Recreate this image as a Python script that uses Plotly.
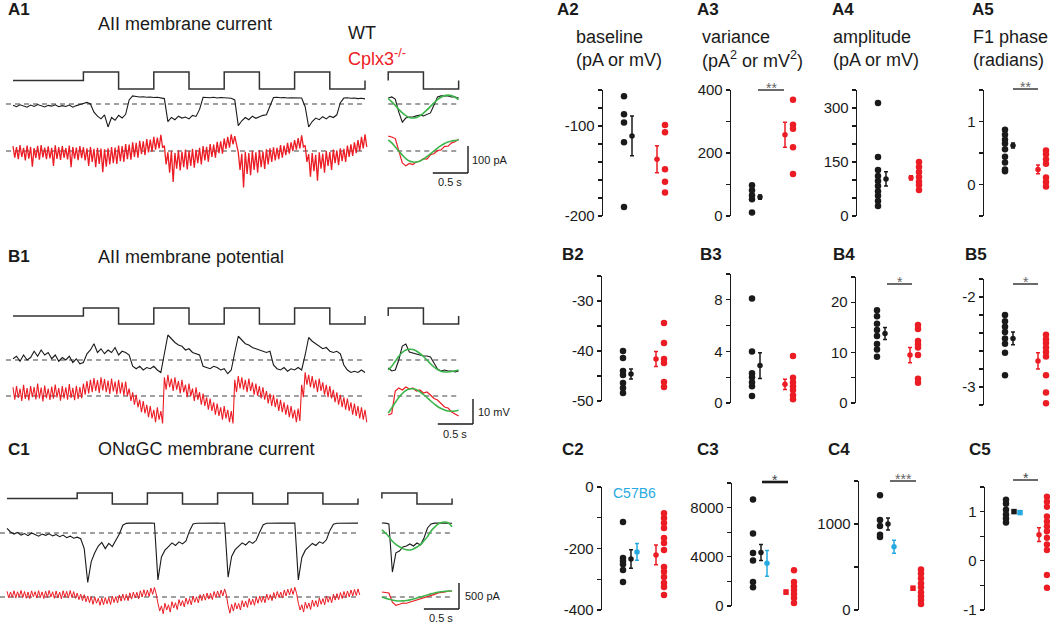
import plotly.graph_objects as go

W, H = 1050, 623          # reference picture size
OFF = 0                    # page margin is removed in the page (see write_html)
FW, FH = W - OFF, H - OFF  # size of the plotly canvas
DT = 0.05  # sampling interval of the read-off traces (s)
FONT = "Liberation Sans, Arial, Helvetica, sans-serif"
BLACK, RED, BLUE, GREEN, GRAY = "#1a1a1a", "#ec1c24", "#27aae1", "#3bb54a", "#808080"

# ---------------- stimulus (contrast steps) ----------------
stim_t = [0, 1.0, 1.5, 2.0, 2.5, 3.0, 3.5, 4.0, 4.5, 5.0]
stim_lv = [0, 1, -1, 1, -1, 1, -1, 1, -1, 0]
inset_stim_t = [0, 0, 0.5, 1.0]
inset_stim_lv = [0, 1, -1, 0]

# ---------------- A1: AII membrane current (pA, relative to baseline) ----------------
a1_wt = [-5, -10, -3, -8, -12, -4, -9, -2, -7, -11, -5, -8, -3, -10, -6, -9, -4, -12, -6, -3,
         2, 6, 0, -30, -45, -55, -40, -85, -50, -60, -42, -52, -38, 15, 30,
         28, 26, 27, 25, 26, 24, 25, 23, 20, -65, -50, -58, -45, -52, -48, -55, -42, -46, -20, 25,
         24, 23, 25, 22, 24, 23, 22, 21, 15, -80, -62, -50, -58, -45, -53, -48, -42, -40, -10, 24,
         25, 23, 24, 22, 23, 22, 21, 22, -10, -85, -65, -52, -58, -47, -55, -45, -50, -40, 5, 22,
         23, 21, 22, 20, 21, 19]
# Cplx3-/- trace: upper and lower edges of the noise band
a1_ko_hi = [18, 14, 22, 12, 20, 15, 11, 19, 22, 13, 17, 12, 21, 14, 18, 11, 20, 15, 13, 18,
            14, 10, 15, 8, 12, 9, 6,
            10, 15, 13, 20, 18, 26, 24, 32, 30, 38, 36, 44, 42, 52, 50,
            60, 20,
            -5, 0, -8, 2, -3, 5, 0, 8, 4, 12,
            18, 15, 26, 24, 34, 36, 46, 52, 62,
            55, -5,
            -10, -3, -8, 0, -5, 3, -2, 6,
            10, 14, 12, 22, 20, 30, 32, 40, 48, 58,
            20, -12,
            -8, -14, -5, -10, 0, -4, 5, 2,
            10, 8, 20, 25, 32, 40, 52, 62]
a1_ko_lo = [-25, -30, -22, -35, -28, -58, -26, -32, -24, -30, -27, -55, -29, -33, -25, -31, -60, -28, -34, -26,
            -35, -55, -40, -60, -48, -78, -58,
            -50, -45, -48, -38, -40, -30, -32, -22, -25, -12, -15, -5, -2, 5, 10,
            12, -50,
            -80, -115, -65, -72, -60, -68, -55, -62, -45, -50,
            -35, -40, -22, -25, -8, -10, 8, 12, 25,
            20, -70,
            -135, -85, -90, -70, -80, -60, -66, -50,
            -40, -35, -30, -25, -15, -10, 0, 5, 10, 15,
            -40, -95,
            -75, -110, -65, -80, -55, -70, -45, -52,
            -38, -40, -22, -18, -8, 0, 10, 15]
a1_wt_avg = [22, 26, 18, -30, -67, -52, -48, -48, -44, -41, -44, -37, -33, -4, 26, 30, 30, 30, 26, 26, 22]
a1_wt_fit = [20, 8, -5, -20, -33, -43, -50, -52, -50, -44, -34, -22, -9, 4, 16, 25, 31, 33, 31, 25, 16]
a1_ko_avg = [55, 52, 46, 4, -44, -55, -46, -50, -40, -38, -28, -30, -14, -10, 2, 4, 17, 18, 30, 34, 44]
a1_ko_fit = [41, 30, 15, 0, -15, -28, -37, -41, -41, -37, -30, -20, -11, 0, 11, 20, 28, 33, 37, 39, 41]

# ---------------- B1: AII membrane potential (mV, relative to baseline) ----------------
b1_wt = [0.5, 1.5, -0.5, 2, 0, 1, 3.5, 1.5, 4, 2, 3, 0.5, 2, -0.5, 1, 0, 1.5, -1, 0.5, -1.5,
         -1, 2.5, 4, 6.5, 3, 4.5, 2.5, 4, 3, 5, 2, 3.5, 3, 2,
         -2.5, -3.5, -2.5, -4, -3, -3.5, -2.5, -4, -5,
         2, 10, 8.5, 7, 6, 5.5, 4, 4.5, 3, 2.5, 2,
         -2.5, -3, -3.5, -2.5, -3, -4, -3.5, -5.5, -4,
         3, 9.5, 8, 6.5, 6, 5, 4.5, 4, 3.5, 3, 3.5,
         -2, -3.5, -4, -3, -4.5, -3.5, -4, -3, -4,
         2, 9, 7.5, 6.5, 5.5, 4.5, 5, 3.5, 3, 3.5, 2.5,
         -2, -4, -5, -4.5, -5, -4, -5]
b1_ko_hi = [3.5, 4, 3, 4.5, 3.2, 4, 3.6, 5, 3.4, 4.2, 3, 3.8, 4.6, 3.2, 4, 3.5, 4.8, 3.3, 4.1, 3.6,
            5, 6, 6.5, 7.2, 6.4, 7.5, 6.8, 6.2, 7, 5.8, 6.5, 5.5, 5.8,
            3, 1.5, 0.5, -1.5, -2, -3.5, -4, -5.5, -4.5, -6,
            7.5, 8.5,
            7, 7.5, 6, 6.5, 4.5, 5, 3, 3.5, 1.5, 1, -0.5, -1, -2.5, -3, -4.5, -4, -5.5, -6,
            6.5, 8,
            7.5, 6.5, 7, 5.5, 5, 4, 3.5, 2, 1, 0.5, -1, -1.5, -2.5, -3.5, -4, -5.5, -5,
            4.5, 9.5,
            8.5, 8, 6.5, 7, 5.5, 4.5, 4, 2.5, 1.5, 0.5, -0.5, -1, -2.5, -3, -4, -4.5, -5.5]
b1_ko_lo = [-1.5, -0.8, -2, -1.2, -1.8, -0.5, -1.4, -1, -2.2, -0.9, -1.6, -1.1, -0.6, -1.9, -1, -1.5, -0.8, -1.7, -1.2, -0.9,
            0.5, 1, 1.5, 2, 1.2, 2.2, 1.5, 0.8, 1.8, 0.6, 1, 0.2, 0,
            -2, -3.5, -4.5, -6.5, -7, -8.5, -9, -10.5, -9.5, -11,
            2.5, 3.5,
            2, 2.5, 1, 1.5, -0.5, 0, -2, -1.5, -3.5, -4, -5.5, -6, -7.5, -8, -9.5, -9, -10.5, -11,
            1.5, 3,
            2.5, 1.5, 2, 0.5, 0, -1, -1.5, -3, -4, -4.5, -6, -6.5, -7.5, -8.5, -9, -10.5, -10,
            -0.5, 4.5,
            3.5, 3, 1.5, 2, 0.5, -0.5, -1, -2.5, -3.5, -4.5, -5.5, -6, -7.5, -8, -9, -9.5, -10.5]
b1_wt_avg = [-3.2, -4.4, -4, 0, 5.6, 6.4, 3.2, 2.8, 2.4, 2, 1.6, 1.6, 1.2, -1.2, -3.6, -4.4, -4, -4.4, -4.4, -4.8, -4.4]
b1_wt_fit = [-4, -2.5, -0.5, 1.5, 3, 4, 4.3, 4.2, 3.6, 2.6, 1.4, 0, -1.5, -2.8, -3.8, -4.5, -4.8, -4.8, -4.6, -4.3, -4]
b1_ko_avg = [-7.6, -7, 2, 3.2, 2.4, 3.6, 2.8, 3.2, 2, 2.4, 1.2, 1.6, 0.4, -1, -1.6, -3.2, -4.4, -4.8, -6.4, -7.2, -8]
b1_ko_fit = [-6.8, -4.8, -2.6, -0.6, 1, 2.2, 2.8, 2.9, 2.5, 1.7, 0.6, -0.6, -1.9, -3.1, -4.2, -5, -5.6, -6, -6.1, -6, -5.7]

# ---------------- C1: ONaGC membrane current (pA, relative to baseline) ----------------
c1_wt = [90, 20, -20, 10, -40, -10, -50, 0, -30, -60, -20, -45, -15, -55, -30, -70, -40, -90, -60, -100,
         -80, -110, -300, -950, -550, -380,
         -250, -180, -300, -200, -260, -150, -20, 150,
         185, 190, 192, 190, 192, 190, 188, 190, 188,
         -900, -460, -330, -260, -190, -240, -170, -210, -150, 40, 175,
         188, 190, 192, 190, 192, 190, 190, 188, 190,
         -850, -450, -320, -250, -190, -230, -160, -200, -140, 20, 160,
         188, 192, 190, 192, 190, 190, 188, 190, 190,
         -900, -470, -330, -260, -200, -240, -170, -200, -130, 50, 170,
         188, 190, 192, 190, 190, 188, 190]
c1_ko_hi = [110, 95, 120, 100, 125, 105, 95, 118, 102, 122, 98, 112, 126, 100, 115, 96, 120, 108, 124, 104,
            75, 55, 45, 20, 5, 0, -25, -20,
            -10, -15, 15, 10, 40, 55, 50, 80, 95, 90, 120, 140, 135, 170,
            185, -120,
            -170, -120, -150, -90, -110, -50, -70, -20, -30, 15, 5, 45, 55, 75, 70, 105, 115, 135, 155,
            -170, -140,
            -110, -125, -70, -80, -30, -40, 0, 20, 10, 55, 45, 85, 105, 95, 135, 150, 165, 185,
            -120, -150,
            -100, -115, -60, -70, -20, -30, 20, 10, 55, 65, 85, 105, 115, 135, 145, 155]
c1_ko_lo = [-15, -5, -20, 0, -10, -25, -30, 5, -20, -5, -30, -10, 0, -25, -15, -35, -5, -20, -10, -25,
            -50, -70, -90, -110, -140, -120, -160, -150,
            -130, -145, -105, -115, -80, -65, -70, -40, -20, -35, 0, 15, 10, 50,
            60, -270,
            -320, -250, -290, -210, -240, -170, -190, -140, -150, -100, -115, -70, -60, -40, -50, -10, 0, 20, 40,
            -310, -270,
            -230, -250, -190, -200, -150, -160, -120, -100, -110, -60, -70, -30, -10, -20, 20, 40, 50, 70,
            -250, -290,
            -220, -240, -180, -190, -140, -150, -100, -110, -60, -50, -30, -10, 0, 20, 30, 40]
c1_wt_avg = [192, 190, 173, -750, -380, -346, -269, -250, -211, -250, -192, -230, -96, 96, 173, 190, 192, 190, 192, 190, 188]
c1_wt_fit = [58, 0, -70, -160, -220, -265, -300, -322, -325, -305, -270, -225, -150, -70, 40, 110, 170, 200, 210, 190, 120]
c1_ko_avg = [96, 90, 77, -100, -160, -140, -115, -120, -100, -70, -60, -40, -20, 0, 20, 50, 80, 96, 100, 110, 115]
c1_ko_fit = [0, -25, -45, -60, -72, -77, -75, -68, -55, -38, -18, 0, 20, 40, 60, 78, 92, 102, 110, 114, 115]

# ---------------- summary panels (per cell values, mean, sem) ----------------
a2_wt = [-67, -87, -96, -118, -190]; a2_wt_mean, a2_wt_sem = -111, 22
a2_ko = [-99, -107, -148, -162, -174]; a2_ko_mean, a2_ko_sem = -137, 15
a3_wt = [98, 82, 66, 53, 11]; a3_wt_mean, a3_wt_sem = 60, 7
a3_ko = [369, 290, 277, 218, 133]; a3_ko_mean, a3_ko_sem = 258, 40
a4_wt = [314, 164, 128, 111, 97, 83, 69, 56, 42, 28]; a4_wt_mean, a4_wt_sem = 103, 20
a4_ko = [150, 136, 122, 108, 95, 86, 72]; a4_ko_mean, a4_ko_sem = 106, 6
a5_wt = [0.87, 0.79, 0.71, 0.65, 0.56, 0.44, 0.35, 0.24, 0.21]; a5_wt_mean, a5_wt_sem = 0.62, 0.04
a5_ko = [0.54, 0.48, 0.40, 0.33, 0.11, 0.04, -0.03]; a5_ko_mean, a5_ko_sem = 0.24, 0.07

b2_wt = [-40.0, -41.4, -44.0, -44.8, -46.4, -47.4, -48.4]; b2_wt_mean, b2_wt_sem = -44.6, 1.0
b2_ko = [-34.4, -38.4, -41.6, -42.4, -46.2, -47.2]; b2_ko_mean, b2_ko_sem = -41.6, 1.5
b3_wt = [8.1, 4.0, 2.3, 2.0, 1.6, 1.3, 0.55]; b3_wt_mean, b3_wt_sem = 2.9, 1.0
b3_ko = [3.65, 1.95, 1.6, 1.3, 1.0, 0.6, 0.3]; b3_ko_mean, b3_ko_sem = 1.45, 0.4
b4_wt = [18.4, 17.2, 15.7, 14.5, 13.3, 11.7, 10.6, 9.2]; b4_wt_mean, b4_wt_sem = 13.8, 1.2
b4_ko = [15.5, 14.7, 12.3, 11.6, 11.0, 9.5, 4.8, 4.0]; b4_ko_mean, b4_ko_sem = 9.5, 1.5
b5_wt = [-2.2, -2.27, -2.33, -2.39, -2.46, -2.52, -2.62, -2.87]; b5_wt_mean, b5_wt_sem = -2.46, 0.07
b5_ko = [-2.42, -2.47, -2.51, -2.56, -2.61, -2.66, -2.87, -3.06, -3.18]; b5_ko_mean, b5_ko_sem = -2.71, 0.09

c2_wt = [-114, -231, -241, -251, -270, -309]; c2_wt_mean, c2_wt_sem = -234, 30
c2_b6_mean, c2_b6_sem = -211, 27
c2_ko = [-85, -101, -117, -133, -166, -182, -205, -260, -276, -293, -312, -325, -351]; c2_ko_mean, c2_ko_sem = -221, 32
c3_wt = [8650, 5900, 4300, 3700, 1950, 1530]; c3_wt_mean, c3_wt_sem = 4350, 650
c3_b6_mean, c3_b6_sem = 3470, 1050
c3_ko = [2900, 1950, 1600, 1300, 970, 650, 240]; c3_ko_mean, c3_ko_sem = 1130, 150
c4_wt = [1333, 1046, 977, 874, 850]; c4_wt_mean, c4_wt_sem = 1000, 70
c4_b6_mean, c4_b6_sem = 736, 75
c4_ko = [471, 425, 368, 310, 264, 207, 161, 115, 69]; c4_ko_mean, c4_ko_sem = 253, 20
c5_wt = [1.24, 1.16, 1.04, 0.94, 0.86, 0.78]; c5_wt_mean, c5_wt_sem = 1.0, 0.03
c5_b6_mean, c5_b6_sem = 0.98, 0.0
c5_ko = [1.3, 1.2, 1.1, 0.9, 0.8, 0.7, 0.6, 0.47, 0.33, 0.22, -0.29, -0.55]; c5_ko_mean, c5_ko_sem = 0.53, 0.14

# ======================================================================
fig = go.Figure()
layout = dict(width=FW, height=FH, autosize=False,
              margin=dict(l=0, r=0, t=0, b=0, pad=0, autoexpand=False), paper_bgcolor="white",
              plot_bgcolor="white", showlegend=False, font=dict(family=FONT, color=BLACK))
shapes, annos = [], []
naxes = [0]


def fx(x):
    return (x - OFF) / FW


def fy(y):
    return 1 - (y - OFF) / FH


def ydom(ptop, pbot):
    return [max(0.0, fy(pbot)), min(1.0, fy(ptop))]


def new_axes(xd, xr, yd, yr, yopts):
    naxes[0] += 1
    s = "" if naxes[0] == 1 else str(naxes[0])
    layout["xaxis" + s] = dict(domain=xd, range=xr, visible=False, anchor="y" + s, fixedrange=True,
                               automargin=False)
    layout["yaxis" + s] = dict(domain=yd, range=yr, anchor="x" + s, fixedrange=True, automargin=False, **yopts)
    return "x" + s, "y" + s


def text(xp, yp, s, size=18, color=BLACK, bold=False, xanchor="left"):
    if bold:
        s = "<b>" + s + "</b>"
    if xanchor == "left":
        xp -= 2
    annos.append(dict(x=fx(xp), y=fy(yp), xref="paper", yref="paper", text=s, showarrow=False,
                      xanchor=xanchor, yanchor="middle", font=dict(family=FONT, size=size, color=color)))


def pline(x0, y0, x1, y1, color=BLACK, width=1.3):
    shapes.append(dict(type="line", xref="paper", yref="paper", x0=fx(x0), y0=fy(y0),
                       x1=fx(x1), y1=fy(y1), line=dict(color=color, width=width)))


def trace_row(cfg, wt, ko_band, wt_avg, wt_fit, ko_avg, ko_fit, band_width=1.3):
    x0, pxps, k = cfg["x0"], cfg["pxps"], cfg["k"]
    ptop, pbot = cfg["ptop"], cfg["pbot"]

    def val(py):
        return (cfg["base"] - py) * k

    xa, ya = new_axes([0, fx(490)], [(OFF - x0) / pxps, (490 - x0) / pxps],
                      [fy(pbot), fy(ptop)], [val(pbot), val(ptop)], dict(visible=False))
    ko_off = val(cfg["ko_base"])
    t_main = [i * DT for i in range(len(wt))]
    ti = cfg["inset_t0"]
    t_in = [ti + i * DT for i in range(len(wt_avg))]
    # baselines (dashed)
    for off in (0, ko_off):
        for (a, b) in ((-0.1, 5.0), (ti, ti + 1.0)):
            shapes.append(dict(type="line", xref=xa, yref=ya, x0=a, x1=b, y0=off, y1=off, layer="below",
                               line=dict(color=GRAY, width=1.3, dash="5px,4px")))
    # stimulus
    s0, sa = val(cfg["stim"]), cfg["stim_amp"] * k
    fig.add_trace(go.Scatter(x=stim_t, y=[s0 + v * sa for v in stim_lv], mode="lines", line_shape="hv",
                             line=dict(color="#333", width=1.5), xaxis=xa, yaxis=ya, hoverinfo="skip"))
    fig.add_trace(go.Scatter(x=[ti + t for t in inset_stim_t], y=[s0 + v * sa for v in inset_stim_lv],
                             mode="lines", line_shape="hv", line=dict(color="#333", width=1.5),
                             xaxis=xa, yaxis=ya, hoverinfo="skip"))
    # recordings
    fig.add_trace(go.Scatter(x=t_main, y=wt, mode="lines", line=dict(color=BLACK, width=1.1),
                             xaxis=xa, yaxis=ya, hoverinfo="skip"))
    hi, lo = ko_band
    xs, ys = [], []
    for i in range(len(hi)):
        xs += [i * DT, i * DT + DT / 2]
        ys += [hi[i] + ko_off, lo[i] + ko_off]
    fig.add_trace(go.Scatter(x=xs, y=ys, mode="lines", line=dict(color=RED, width=band_width),
                             xaxis=xa, yaxis=ya, hoverinfo="skip"))
    # averaged cycle + F1 fit
    fig.add_trace(go.Scatter(x=t_in, y=wt_avg, mode="lines", line=dict(color=BLACK, width=1.1),
                             xaxis=xa, yaxis=ya, hoverinfo="skip"))
    fig.add_trace(go.Scatter(x=t_in, y=[v + ko_off for v in ko_avg], mode="lines",
                             line=dict(color=RED, width=1.2), xaxis=xa, yaxis=ya, hoverinfo="skip"))
    for fit, off in ((wt_fit, 0), (ko_fit, ko_off)):
        fig.add_trace(go.Scatter(x=t_in, y=[v + off for v in fit], mode="lines", line_shape="spline",
                                 line=dict(color=GREEN, width=1.6), xaxis=xa, yaxis=ya, hoverinfo="skip"))
    # scale bars
    cx, cy = cfg["scale_corner"]
    tc, vc = (cx - x0) / pxps, val(cy)
    shapes.append(dict(type="line", xref=xa, yref=ya, x0=tc, x1=tc, y0=vc, y1=vc + cfg["scale_val"],
                       line=dict(color=BLACK, width=1.4)))
    shapes.append(dict(type="line", xref=xa, yref=ya, x0=tc - 0.5, x1=tc, y0=vc, y1=vc,
                       line=dict(color=BLACK, width=1.4)))
    tx, ty = cfg["scale_txt_pos"]
    text(tx, ty, cfg["scale_txt"], size=11)
    sx, sy = cfg["time_txt_pos"]
    text(sx, sy, "0.5 s", size=11, xanchor="center")


A1 = dict(x0=13, pxps=70.4, ptop=62, pbot=195, k=3.7, base=104, ko_base=151, stim=80.5, stim_amp=8.5,
          inset_t0=5.33, scale_corner=(468, 173), scale_val=100, scale_txt="100 pA",
          scale_txt_pos=(472, 160), time_txt_pos=(450, 182))
B1 = dict(x0=13, pxps=70.4, ptop=295, pbot=440, k=0.4, base=360, ko_base=396, stim=316, stim_amp=8,
          inset_t0=5.33, scale_corner=(473, 424), scale_val=10, scale_txt="10 mV",
          scale_txt_pos=(478, 412), time_txt_pos=(455, 434))
C1 = dict(x0=7, pxps=70.2, ptop=485, pbot=621, k=19.2, base=533, ko_base=597, stim=498.5, stim_amp=5.5,
          inset_t0=5.34, scale_corner=(459, 609), scale_val=500, scale_txt="500 pA",
          scale_txt_pos=(465, 596), time_txt_pos=(441, 618))

trace_row(A1, a1_wt, (a1_ko_hi, a1_ko_lo), a1_wt_avg, a1_wt_fit, a1_ko_avg, a1_ko_fit, band_width=1.3)
trace_row(B1, b1_wt, (b1_ko_hi, b1_ko_lo), b1_wt_avg, b1_wt_fit, b1_ko_avg, b1_ko_fit, band_width=1.1)
trace_row(C1, c1_wt, (c1_ko_hi, c1_ko_lo), c1_wt_avg, c1_wt_fit, c1_ko_avg, c1_ko_fit, band_width=1.0)

# ---------------- summary panels ----------------
POS = dict(wt=21, wt_mean=29, b6_mean=35, ko_mean=54, ko=62)


def stat_panel(axis_px, ptop, pbot, yr, step, labelled, wt, wtm, wts, ko, kom, kos,
               b6=None, sym=("circle", "circle", "circle")):
    right = min(axis_px + 70, W)
    n = int(round((yr[1] - yr[0]) / step))
    tv = [round(yr[0] + i * step, 6) for i in range(n + 1)]
    tt = [("%g" % v) if any(abs(v - l) < 1e-9 for l in labelled) else " " for v in tv]
    yopts = dict(visible=True, showline=True, linecolor=BLACK, linewidth=1.3, ticks="outside", ticklen=4,
                 tickwidth=1.2, tickcolor=BLACK, tickmode="array", tickvals=tv, ticktext=tt,
                 tickfont=dict(family=FONT, size=15, color=BLACK), showgrid=False, zeroline=False)
    xa, ya = new_axes([fx(axis_px), fx(right)], [0, right - axis_px], ydom(ptop, pbot), yr, yopts)
    fig.add_trace(go.Scatter(x=[POS["wt"]] * len(wt), y=wt, mode="markers", cliponaxis=False,
                             marker=dict(color=BLACK, size=6.5), xaxis=xa, yaxis=ya, hoverinfo="skip"))
    fig.add_trace(go.Scatter(x=[POS["ko"]] * len(ko), y=ko, mode="markers", cliponaxis=False,
                             marker=dict(color=RED, size=6.5), xaxis=xa, yaxis=ya, hoverinfo="skip"))
    means = [(POS["wt_mean"], wtm, wts, BLACK, sym[0]), (POS["ko_mean"], kom, kos, RED, sym[2])]
    if b6 is not None:
        means.append((POS["b6_mean"], b6[0], b6[1], BLUE, sym[1]))
    for x, m, s, c, sy in means:
        fig.add_trace(go.Scatter(x=[x], y=[m], mode="markers", cliponaxis=False,
                                 marker=dict(color=c, size=5.5, symbol=sy),
                                 error_y=dict(type="data", array=[s], color=c, thickness=1.5, width=2),
                                 xaxis=xa, yaxis=ya, hoverinfo="skip"))


stat_panel(603, 90, 216, [-200, -60], 20, [-100, -200], a2_wt, a2_wt_mean, a2_wt_sem, a2_ko, a2_ko_mean, a2_ko_sem)
stat_panel(731, 90, 216, [0, 400], 100, [0, 200, 400], a3_wt, a3_wt_mean, a3_wt_sem, a3_ko, a3_ko_mean, a3_ko_sem)
stat_panel(857, 90, 216, [0, 350], 50, [0, 150, 300], a4_wt, a4_wt_mean, a4_wt_sem, a4_ko, a4_ko_mean, a4_ko_sem)
stat_panel(984, 90, 216, [-0.5, 1.5], 0.5, [0, 1], a5_wt, a5_wt_mean, a5_wt_sem, a5_ko, a5_ko_mean, a5_ko_sem)
stat_panel(602, 276, 401, [-50, -25], 5, [-30, -40, -50], b2_wt, b2_wt_mean, b2_wt_sem, b2_ko, b2_ko_mean, b2_ko_sem)
stat_panel(731, 274, 403, [0, 10], 2, [0, 4, 8], b3_wt, b3_wt_mean, b3_wt_sem, b3_ko, b3_ko_mean, b3_ko_sem)
stat_panel(856, 277, 403, [0, 25], 5, [0, 10, 20], b4_wt, b4_wt_mean, b4_wt_sem, b4_ko, b4_ko_mean, b4_ko_sem)
stat_panel(984, 279, 405, [-3.2, -1.8], 0.2, [-2, -3], b5_wt, b5_wt_mean, b5_wt_sem, b5_ko, b5_ko_mean, b5_ko_sem)
stat_panel(602, 487, 610, [-400, 0], 100, [0, -200, -400], c2_wt, c2_wt_mean, c2_wt_sem, c2_ko, c2_ko_mean,
           c2_ko_sem, b6=(c2_b6_mean, c2_b6_sem))
stat_panel(732, 483, 606, [0, 10000], 2000, [0, 4000, 8000], c3_wt, c3_wt_mean, c3_wt_sem, c3_ko, c3_ko_mean,
           c3_ko_sem, b6=(c3_b6_mean, c3_b6_sem), sym=("circle", "circle", "square"))
stat_panel(859, 481, 610, [0, 1500], 500, [0, 1000], c4_wt, c4_wt_mean, c4_wt_sem, c4_ko, c4_ko_mean,
           c4_ko_sem, b6=(c4_b6_mean, c4_b6_sem), sym=("circle", "circle", "square"))
stat_panel(985, 487, 610, [-1, 1.5], 0.5, [-1, 0, 1], c5_wt, c5_wt_mean, c5_wt_sem, c5_ko, c5_ko_mean,
           c5_ko_sem, b6=(c5_b6_mean, c5_b6_sem), sym=("square", "square", "circle"))

# significance bars
for (x0, x1, y, stars, col, lw) in [(758, 784, 90, "**", "#666", 1.3), (1013, 1038, 89, "**", "#666", 1.3),
                                    (887, 912, 284, "*", "#666", 1.3), (1013, 1038, 284, "*", "#666", 1.3),
                                    (762, 788, 482, "*", "#444", 2.6), (890, 916, 481, "***", "#666", 1.3),
                                    (1013, 1038, 480, "*", "#444", 1.3)]:
    pline(x0, y, x1, y, color=BLACK, width=lw)
    text((x0 + x1) / 2, y - 2, stars, size=14, color=col, xanchor="center")

# ---------------- texts ----------------
for s, x, y in [("A1", 8, 10), ("B1", 8, 256), ("C1", 8, 449),
                ("A2", 557, 10), ("A3", 697, 10), ("A4", 832, 10), ("A5", 972, 10),
                ("B2", 562, 255), ("B3", 700, 255), ("B4", 833, 255), ("B5", 965, 255),
                ("C2", 562, 449), ("C3", 697, 449), ("C4", 828, 449), ("C5", 969, 449)]:
    text(x, y, s, size=17, bold=True)

text(98, 24, "AII membrane current")
text(98, 257, "AII membrane potential")
text(98, 449, "ON\u03b1GC membrane current")
text(348, 33, "WT")
text(348, 58, "Cplx3<sup>-/-</sup>", color=RED)
text(576, 37, "baseline"); text(576, 60, "(pA or mV)")
text(702, 37, "variance"); text(702, 60, "(pA<sup>2</sup> or mV<sup>2</sup>)")
text(833, 37, "amplitude"); text(833, 60, "(pA or mV)")
text(973, 37, "F1 phase"); text(973, 60, "(radians)")
text(613, 493, "C57B6", size=14, color=BLUE)

layout["shapes"] = shapes
layout["annotations"] = annos
fig.update_layout(**layout)
fig.write_html("out.html", config={"displayModeBar": False, "staticPlot": True},
               post_script="document.body.style.margin='0px';document.body.style.padding='0px';"
                           "document.body.style.overflow='hidden';")
